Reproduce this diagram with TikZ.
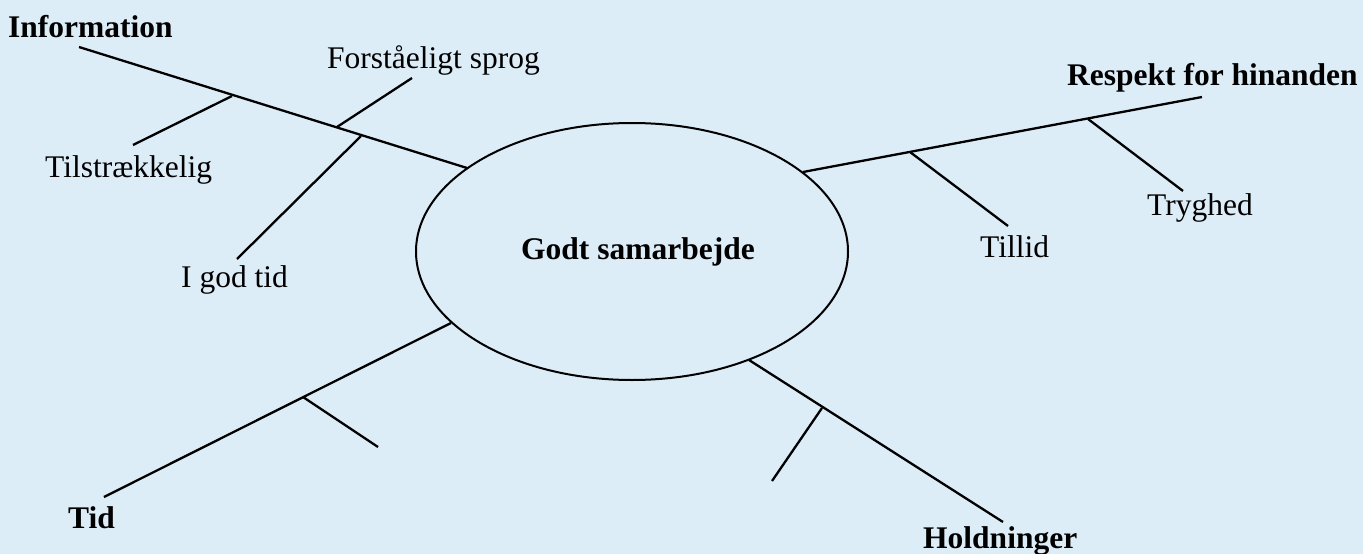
\documentclass[tikz,border=0pt]{standalone}
\usepackage{fontspec}
\setmainfont{Liberation Serif}
\usetikzlibrary{shapes.geometric}
\definecolor{bgblue}{RGB}{221,237,248}
\tikzset{
  lbl/.style={anchor=base west, inner sep=0pt, font=\fontsize{31.5}{36}\selectfont},
  bold/.style={lbl, font=\fontsize{31.5}{36}\selectfont\bfseries},
  ln/.style={line width=2.3pt},
}
\begin{document}
\begin{tikzpicture}[x=1pt,y=-1pt]
\fill[bgblue] (0,0) rectangle (1363,554);
\useasboundingbox (0,0) rectangle (1363,554);
% central ellipse
\node[ellipse, draw, line width=2pt, minimum width=432pt, minimum height=257pt, inner sep=0pt] (center) at (632,251.5) {};
\node[inner sep=0pt, anchor=base, font=\fontsize{31.5}{36}\selectfont\bfseries] (ctext) at (638,259) {Godt samarbejde};
% labels
\node[bold] (info) at (8,37) {Information};
\node[lbl] (tils) at (45,177) {Tilstrækkelig};
\node[lbl] (igod) at (181,287) {I god tid};
\node[lbl] (forst) at (327,68) {Forståeligt sprog};
\node[bold] (resp) at (1067,85) {Respekt for hinanden};
\node[lbl] (till) at (980,257) {Tillid};
\node[lbl] (tryg) at (1147,215) {Tryghed};
\node[bold] (tid) at (68,528) {Tid};
\node[bold] (hold) at (923,548) {Holdninger};
% coordinates
\coordinate (i0) at (79,47);
\coordinate (i1) at (467,168);
\coordinate (ta) at (232,96);   \coordinate (tb) at (133,145);
\coordinate (fa) at (337,127);  \coordinate (fb) at (412,78);
\coordinate (ga) at (361,136);  \coordinate (gb) at (237,259);
\coordinate (r0) at (803,172);
\coordinate (r1) at (1202,97);
\coordinate (la) at (910,152);  \coordinate (lb) at (1008,226);
\coordinate (ya) at (1088,119); \coordinate (yb) at (1183,191);
\coordinate (d0) at (451,323);
\coordinate (d1) at (104,497);
\coordinate (da) at (303,397);  \coordinate (db) at (378,447);
\coordinate (h0) at (749,360);
\coordinate (h1) at (1003,522);
\coordinate (ha) at (822,408);  \coordinate (hb) at (772,481);
% connectors
\draw[ln] (i0) -- (i1);
\draw[ln] (ta) -- (tb);
\draw[ln] (fa) -- (fb);
\draw[ln] (ga) -- (gb);
\draw[ln] (r0) -- (r1);
\draw[ln] (la) -- (lb);
\draw[ln] (ya) -- (yb);
\draw[ln] (d0) -- (d1);
\draw[ln] (da) -- (db);
\draw[ln] (h0) -- (h1);
\draw[ln] (ha) -- (hb);
\end{tikzpicture}
\end{document}
